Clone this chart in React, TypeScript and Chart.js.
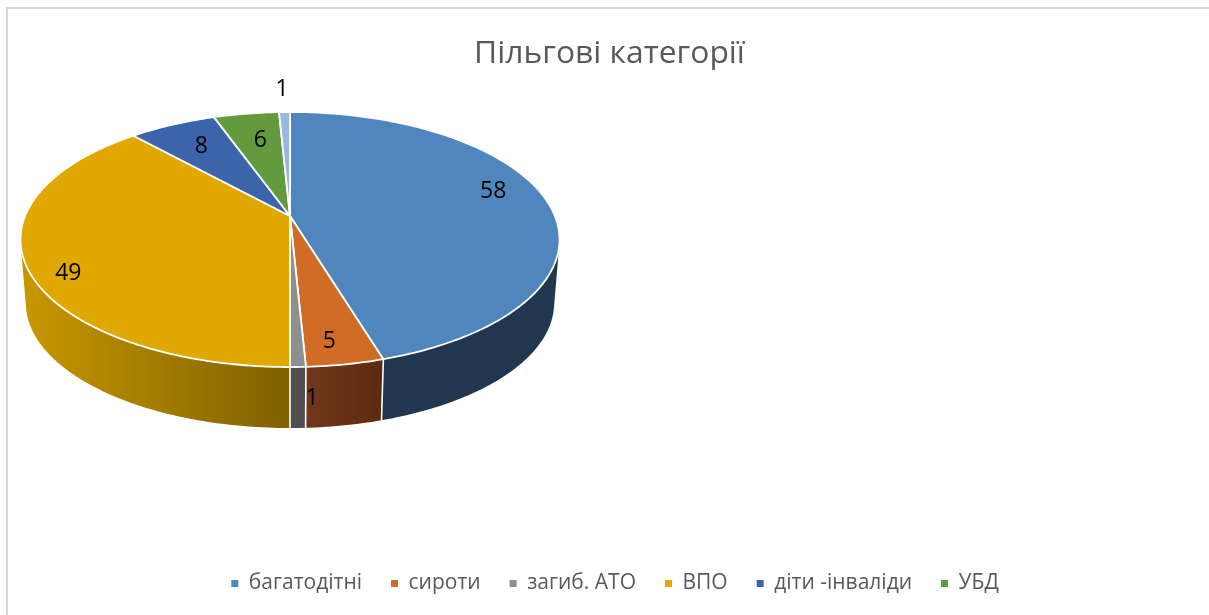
import React, { useEffect, useRef } from "react";
import { Chart, registerables } from "chart.js";

Chart.register(...registerables);

const categories = ["багатодітні", "сироти", "загиб. АТО", "ВПО", "діти -інваліди", "УБД", ""];
const values = [58, 5, 1, 49, 8, 6, 1];
const topColors = ["#4E86BD", "#D16C27", "#8F8F8F", "#E0A800", "#3B64AB", "#649A3E", "#95B7E0"];
const sideLeft = ["#20374F", "#73371A", "#4F4F4F", "#C89800", "#233C66", "#3C5C25", "#597087"];
const sideRight = ["#20374F", "#5C2C10", "#4F4F4F", "#7E6000", "#233C66", "#3C5C25", "#597087"];
const labelDx = [-52, -16, 14, 43, 29, 14, -2.5];
const labelDy = [-7, -23, 31, 9.5, 22, 27, -23];

const FONT = '"Open Sans", "Noto Sans", sans-serif';

// Perspective projection of the pie's flat disc: top face and bottom face
const CX = 290;
const K = 0.1843;
const R = 264.9;
const S = 123.2;
const TOP_Y = 216;
const BOTTOM_Y = 280;
const BOTTOM_F = 0.98;
const LEGEND_SHIFT = 5.5;

function project(angle: number, r: number, y0: number, f: number): [number, number] {
  const a = angle + Math.PI / 2;
  const u = Math.sin(a) * r;
  const v = -Math.cos(a) * r;
  const d = 1 - K * v;
  return [CX + (R * f * u) / d, y0 + (S * f * v) / d];
}

function rimPoints(start: number, end: number, y0: number, f: number) {
  const n = Math.max(2, Math.ceil(((end - start) * 180) / Math.PI));
  const pts: [number, number][] = [];
  for (let i = 0; i <= n; i++) pts.push(project(start + ((end - start) * i) / n, 1, y0, f));
  return pts;
}

function signedArea(q: [number, number][]) {
  let s = 0;
  q.forEach((p, i) => {
    const n = q[(i + 1) % q.length];
    s += p[0] * n[1] - n[0] * p[1];
  });
  return s;
}

const pie3d = {
  id: "pie3d",
  afterLayout(chart: any) {
    chart.legend.left += LEGEND_SHIFT;
    chart.legend.right += LEGEND_SHIFT;
  },
  beforeDatasetDraw(chart: any, args: any) {
    const ctx = chart.ctx;
    const arcs = args.meta.data;
    ctx.save();
    ctx.lineJoin = "round";
    // side walls: all thin quads of a slice in one path, wound the same way,
    // so there are no seams and the silhouette is tangent to both rims
    arcs.forEach((arc: any, i: number) => {
      const top = rimPoints(arc.startAngle, arc.endAngle, TOP_Y, 1);
      const bottom = rimPoints(arc.startAngle, arc.endAngle, BOTTOM_Y, BOTTOM_F);
      const xs = top.map((p) => p[0]).concat(bottom.map((p) => p[0]));
      const g = ctx.createLinearGradient(Math.min(...xs), 0, Math.max(...xs), 0);
      g.addColorStop(0, sideLeft[i]);
      g.addColorStop(1, sideRight[i]);
      ctx.fillStyle = g;
      ctx.beginPath();
      for (let j = 0; j < top.length - 1; j++) {
        const q: [number, number][] = [top[j], top[j + 1], bottom[j + 1], bottom[j]];
        if (signedArea(q) < 0) q.reverse();
        q.forEach((p, m) => (m ? ctx.lineTo(p[0], p[1]) : ctx.moveTo(p[0], p[1])));
        ctx.closePath();
      }
      ctx.fill("nonzero");
    });
    // white seams between the front walls
    ctx.strokeStyle = "#FFFFFF";
    ctx.lineWidth = 1.6;
    arcs.forEach((arc: any) => {
      const a = project(arc.endAngle, 1, TOP_Y, 1);
      const b = project(arc.endAngle, 1, BOTTOM_Y, BOTTOM_F);
      if (arc.endAngle + Math.PI / 2 <= Math.PI + 0.001) {
        ctx.beginPath();
        ctx.moveTo(a[0], a[1]);
        ctx.lineTo(b[0], b[1]);
        ctx.stroke();
      }
    });
    // top face
    arcs.forEach((arc: any, i: number) => {
      const rim = rimPoints(arc.startAngle, arc.endAngle, TOP_Y, 1);
      ctx.fillStyle = topColors[i];
      ctx.strokeStyle = "#FFFFFF";
      ctx.lineWidth = 1.8;
      ctx.beginPath();
      ctx.moveTo(CX, TOP_Y);
      rim.forEach((p) => ctx.lineTo(p[0], p[1]));
      ctx.closePath();
      ctx.fill();
      ctx.stroke();
    });
    // value labels
    ctx.fillStyle = "#000000";
    ctx.font = `23px ${FONT}`;
    ctx.textAlign = "center";
    ctx.textBaseline = "middle";
    arcs.forEach((arc: any, i: number) => {
      const p = project((arc.startAngle + arc.endAngle) / 2, 1, TOP_Y, 1);
      ctx.fillText(String(values[i]), p[0] + labelDx[i], p[1] + labelDy[i]);
    });
    ctx.restore();
    return false;
  },
};

export default function App() {
  const ref = useRef<HTMLCanvasElement>(null);
  useEffect(() => {
    const chart = new Chart(ref.current!, {
      type: "pie",
      data: {
        labels: categories,
        datasets: [{ data: values, backgroundColor: topColors, borderWidth: 0 }],
      },
      options: {
        responsive: false,
        animation: false,
        layout: { padding: { top: 8, bottom: 11, left: 10 } },
        plugins: {
          tooltip: { enabled: false },
          title: {
            display: true,
            text: "Пільгові категорії",
            color: "#595959",
            font: { family: FONT, size: 31.8, weight: "normal" },
            padding: { top: 27, bottom: 10 },
          },
          legend: {
            position: "bottom",
            labels: {
              boxWidth: 7,
              boxHeight: 7,
              padding: 29,
              color: "#595959",
              font: { family: FONT, size: 21 },
              filter: (item: any) => item.text !== "",
            },
          },
        },
      },
      plugins: [pie3d],
    } as any);
    return () => chart.destroy();
  }, []);
  return (
    <div style={{ position: "fixed", left: 0, top: 0, width: 1209, height: 615, overflow: "hidden", background: "#fff" }}>
      <canvas ref={ref} width={1209} height={615} style={{ display: "block", width: 1209, height: 615 }} />
      <div
        style={{
          position: "absolute",
          left: 6,
          top: 7,
          width: 1300,
          height: 700,
          borderLeft: "2px solid #D9D9D9",
          borderTop: "2px solid #D9D9D9",
          pointerEvents: "none",
        }}
      />
    </div>
  );
}
